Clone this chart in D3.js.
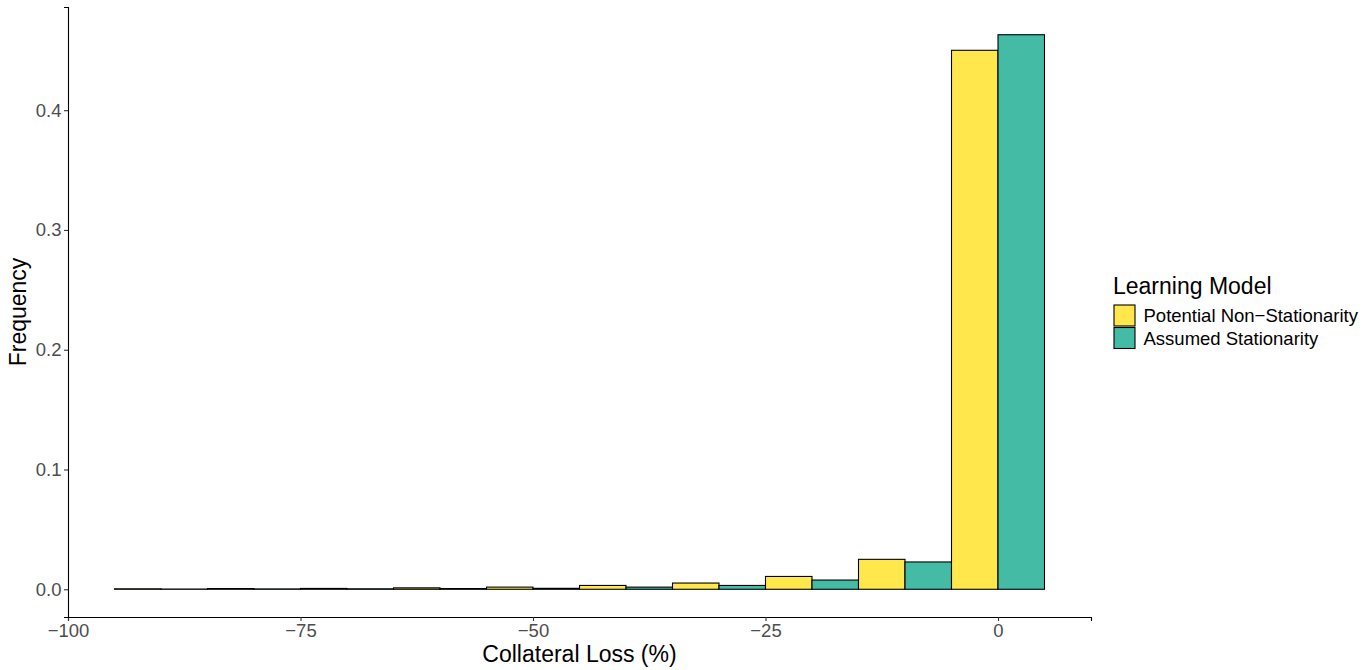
<!DOCTYPE html>
<html lang="en">
<head>
<meta charset="UTF-8">
<title>Collateral Loss Histogram</title>
<script src="https://cdnjs.cloudflare.com/ajax/libs/d3/7.8.5/d3.min.js"></script>
<style>
    body { margin: 0; background: #fff; }
    svg { font-family: "Liberation Sans", Arial, sans-serif; }
</style>
</head>
<body>
<div id="chart"></div>
<script>
    // Bin centres (width 10) and frequencies per learning model
    const binCenters = [-90, -80, -70, -60, -50, -40, -30, -20, -10, 0];
    const nonStationary = [0.0004, 0.0006, 0.0007, 0.0012, 0.0018, 0.0032, 0.0052, 0.0107, 0.025, 0.450];
    const stationary = [0.0002, 0.0003, 0.0004, 0.0006, 0.0008, 0.0018, 0.0032, 0.0077, 0.0228, 0.463];
    const seriesNames = ["Potential Non\u2212Stationarity", "Assumed Stationarity"];
    const seriesColors = ["#FFE74C", "#44BBA4"];
    const xTicks = [-100, -75, -50, -25, 0];
    const yTicks = [0, 0.1, 0.2, 0.3, 0.4];

    const W = 1372, H = 670;
    const margin = { top: 7, right: 281, bottom: 53, left: 68 };
    const innerW = W - margin.left - margin.right;
    const innerH = H - margin.top - margin.bottom;
    const binWidth = 10;

    const svg = d3.select("#chart").append("svg")
        .attr("width", W).attr("height", H);
    const g = svg.append("g").attr("transform", `translate(${margin.left},${margin.top})`);

    const yMax = d3.max(stationary.concat(nonStationary));
    const x = d3.scaleLinear().domain([-100, 10]).range([0, innerW]);
    const y = d3.scaleLinear().domain([-yMax * 0.05, yMax * 1.05]).range([innerH, 0]);

    const fmtMinus = s => s.replace("-", "\u2212");

    // bars: dodge each bin into two halves
    const bars = [];
    binCenters.forEach((c, i) => {
        bars.push({ x0: c - binWidth / 2, x1: c, v: nonStationary[i], s: 0 });
        bars.push({ x0: c, x1: c + binWidth / 2, v: stationary[i], s: 1 });
    });

    g.selectAll("rect.bar").data(bars).enter().append("rect")
        .attr("class", "bar")
        .attr("x", d => x(d.x0))
        .attr("width", d => x(d.x1) - x(d.x0))
        .attr("y", d => y(d.v))
        .attr("height", d => y(0) - y(d.v))
        .attr("fill", d => seriesColors[d.s])
        .attr("stroke", "#000")
        .attr("stroke-width", 1.1);

    // axes
    const xAxis = g.append("g").attr("transform", `translate(0,${innerH})`)
        .call(d3.axisBottom(x).tickValues(xTicks).tickSize(4).tickPadding(3)
            .tickFormat(d => fmtMinus(d3.format("d")(d))));
    const yAxis = g.append("g")
        .call(d3.axisLeft(y).tickValues(yTicks).tickSize(4).tickPadding(2.5)
            .tickFormat(d3.format(".1f")));

    [xAxis, yAxis].forEach(ax => {
        ax.select(".domain").attr("stroke", "#000").attr("stroke-width", 1.1);
        ax.selectAll(".tick line").attr("stroke", "#333").attr("stroke-width", 1.1);
        ax.selectAll(".tick text").attr("fill", "#4D4D4D").style("font-size", "18.5px");
    });

    // axis titles
    svg.append("text")
        .attr("x", margin.left + innerW / 2).attr("y", 662)
        .attr("text-anchor", "middle")
        .style("font-size", "23px")
        .text("Collateral Loss (%)");
    svg.append("text")
        .attr("transform", `translate(26,${margin.top + innerH / 2}) rotate(-90)`)
        .attr("text-anchor", "middle")
        .style("font-size", "23px")
        .text("Frequency");

    // legend
    const lg = svg.append("g").attr("transform", "translate(1113,0)");
    lg.append("text").attr("x", 0).attr("y", 293.5)
        .style("font-size", "23px").text("Learning Model");
    seriesNames.forEach((name, i) => {
        lg.append("rect")
            .attr("x", 1).attr("y", 305 + i * 22.5)
            .attr("width", 21).attr("height", 21)
            .attr("fill", seriesColors[i])
            .attr("stroke", "#000").attr("stroke-width", 1.1);
        lg.append("text")
            .attr("x", 30.5).attr("y", 321.7 + i * 23.3)
            .style("font-size", "18.5px")
            .text(name);
    });
</script>
</body>
</html>
